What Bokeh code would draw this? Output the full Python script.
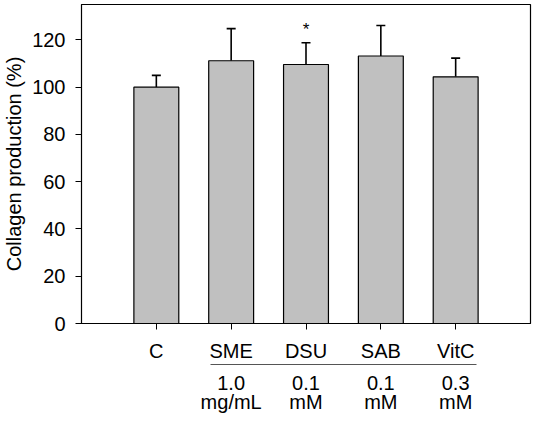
from bokeh.plotting import figure
from bokeh.models import ColumnDataSource, Whisker, TeeHead, FixedTicker, Label, LinearAxis
from bokeh.embed import file_html
from bokeh.resources import INLINE

categories = ["C", "SME", "DSU", "SAB", "VitC"]
means = [100.0, 111.2, 109.6, 113.2, 104.4]
errors = [5.0, 13.6, 9.2, 12.9, 7.9]
doses = ["", "1.0", "0.1", "0.1", "0.3"]
units = ["", "mg/mL", "mM", "mM", "mM"]
star_at = "DSU"
y_ticks = [0, 20, 40, 60, 80, 100, 120]

FONT = "Liberation Sans"
FS = "20px"

xs = list(range(1, len(categories) + 1))
src = ColumnDataSource(data=dict(
    x=xs, top=means,
    upper=[m + e for m, e in zip(means, errors)],
))

p = figure(width=534, height=416, output_backend="svg", toolbar_location=None,
           x_range=(0, 6), y_range=(0, 135),
           min_border_left=78, min_border_right=4,
           min_border_top=4, min_border_bottom=4)
p.grid.visible = False
p.outline_line_color = "black"
p.outline_line_width = 1.2
p.background_fill_color = "white"
p.border_fill_color = "white"

p.vbar(x="x", top="top", bottom=0, width=0.6, source=src,
       fill_color="#c0c0c0", line_color="black", line_width=1.2)

# upper error bars only
p.add_layout(Whisker(source=src, base="x", upper="upper", lower="top",
                     line_color="black", line_width=1.6,
                     upper_head=TeeHead(size=9, line_color="black", line_width=1.6),
                     lower_head=None))

i = categories.index(star_at)
p.add_layout(Label(x=xs[i], y=means[i] + errors[i] + 1.5, text="*",
                   text_align="center", text_baseline="bottom", text_color="black",
                   text_font=FONT, text_font_size="17px"))

# x axis (category names)
p.xaxis.ticker = FixedTicker(ticks=xs)
p.xaxis.major_label_overrides = {x: c for x, c in zip(xs, categories)}
p.xaxis.minor_tick_line_color = None
p.xaxis.major_tick_in = 0
p.xaxis.major_tick_out = 6
p.xaxis.major_label_standoff = 10
p.xaxis.major_label_text_font = FONT
p.xaxis.major_label_text_font_size = FS
p.xaxis.major_label_text_color = "black"
p.xaxis.axis_line_color = "black"

# second row: doses, with the short rule above them
dose_axis = LinearAxis(ticker=FixedTicker(ticks=[x for x, d in zip(xs, doses) if d]),
                       major_label_overrides={x: d + "\n" + u for x, d, u in zip(xs, doses, units) if d},
                       bounds=(1.72, 5.28))
dose_axis.axis_line_color = "#555555"
dose_axis.axis_line_width = 1
dose_axis.major_tick_line_color = None
dose_axis.minor_tick_line_color = None
dose_axis.major_label_standoff = 1
dose_axis.major_label_text_font = FONT
dose_axis.major_label_text_font_size = FS
dose_axis.major_label_text_color = "black"
dose_axis.major_label_text_line_height = 0.9
p.add_layout(dose_axis, "below")

# y axis
p.yaxis.ticker = FixedTicker(ticks=y_ticks)
p.yaxis.minor_tick_line_color = None
p.yaxis.major_tick_in = 0
p.yaxis.major_tick_out = 6
p.yaxis.major_label_standoff = 10
p.yaxis.major_label_text_font = FONT
p.yaxis.major_label_text_font_size = FS
p.yaxis.major_label_text_color = "black"
p.yaxis.axis_label = "Collagen production (%)"
p.yaxis.axis_label_text_font = FONT
p.yaxis.axis_label_text_font_size = FS
p.yaxis.axis_label_text_font_style = "normal"
p.yaxis.axis_label_text_color = "black"
p.yaxis.axis_label_standoff = 4

open("out.html", "w").write(file_html(p, INLINE))
